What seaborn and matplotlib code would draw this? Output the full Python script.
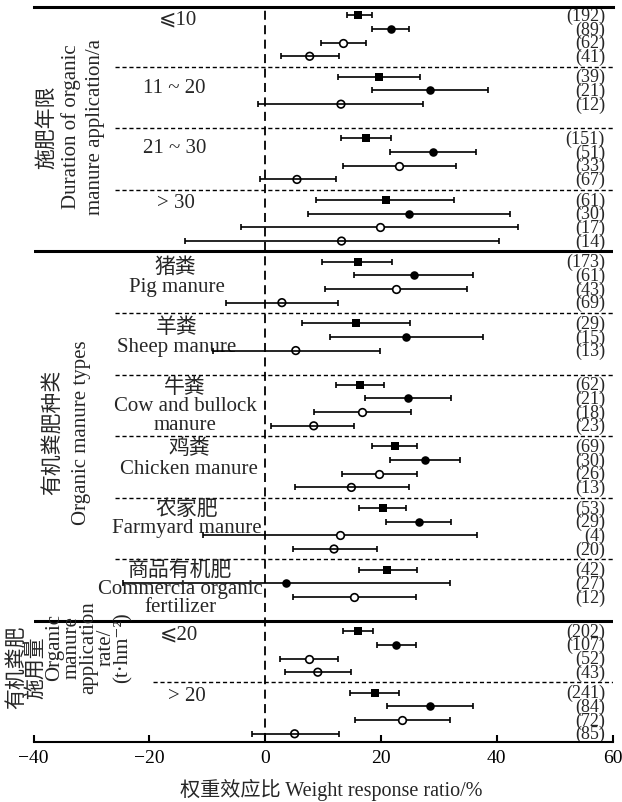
import numpy as np
import pandas as pd
import matplotlib
matplotlib.use("Agg")
import matplotlib.pyplot as plt
import seaborn as sns

# ---------------------------------------------------------------------------
# Data
# ---------------------------------------------------------------------------
# subgroup index (0..11), slot within subgroup (0..3), marker kind a/b/c/d
row_group = [0, 0, 0, 0, 1, 1, 1, 2, 2, 2, 2, 3, 3, 3, 3,
             4, 4, 4, 4, 5, 5, 5, 6, 6, 6, 6, 7, 7, 7, 7,
             8, 8, 8, 8, 9, 9, 9, 10, 10, 10, 10, 11, 11, 11, 11]
row_slot = [0, 1, 2, 3, 0, 1, 2, 0, 1, 2, 3, 0, 1, 2, 3,
            0, 1, 2, 3, 0, 1, 2, 0, 1, 2, 3, 0, 1, 2, 3,
            0, 1, 2, 3, 0, 1, 2, 0, 1, 2, 3, 0, 1, 2, 3]
row_kind = ["a", "b", "c", "d", "a", "b", "d", "a", "b", "c", "d", "a", "b", "c", "d",
            "a", "b", "c", "d", "a", "b", "d", "a", "b", "c", "d", "a", "b", "c", "d",
            "a", "b", "c", "d", "a", "b", "c", "a", "b", "c", "d", "a", "b", "c", "d"]

means = [16.1, 21.7, 13.5, 7.7,
         19.7, 28.5, 13.1,
         17.4, 29.0, 23.2, 5.5,
         20.8, 24.9, 19.8, 13.2,
         16.0, 25.7, 22.6, 2.9,
         15.7, 24.4, 5.3,
         16.4, 24.6, 16.7, 8.4,
         22.4, 27.7, 19.7, 14.9,
         20.3, 26.5, 12.9, 11.9,
         21.1, 3.6, 15.3,
         16.0, 22.6, 7.5, 9.1,
         18.9, 28.4, 23.7, 5.1]
lows = [14.1, 18.4, 9.7, 2.7,
        12.6, 18.4, -1.2,
        13.1, 21.5, 13.5, -0.9,
        8.8, 7.4, -4.2, -13.9,
        9.8, 15.3, 10.3, -6.8,
        6.4, 11.2, -9.0,
        12.2, 17.3, 8.4, 1.1,
        18.4, 21.5, 13.2, 5.1,
        16.2, 20.8, -10.7, 4.8,
        16.2, -24.6, 4.8,
        13.5, 19.3, 2.6, 3.4,
        14.6, 21.0, 15.5, -2.2]
highs = [18.5, 24.9, 17.5, 12.8,
         26.8, 38.5, 27.2,
         21.7, 36.5, 33.0, 12.2,
         32.7, 42.3, 43.7, 40.4,
         22.0, 35.9, 34.9, 12.6,
         25.0, 37.6, 19.8,
         20.6, 32.1, 25.2, 15.3,
         26.3, 33.7, 26.3, 24.9,
         24.4, 32.1, 36.6, 19.3,
         26.3, 32.0, 26.0,
         18.6, 26.0, 12.6, 14.9,
         23.2, 35.9, 31.9, 12.8]
counts = [192, 89, 62, 41,
          39, 21, 12,
          151, 51, 33, 67,
          61, 30, 17, 14,
          173, 61, 43, 69,
          29, 15, 13,
          62, 21, 18, 23,
          69, 30, 26, 13,
          53, 29, 4, 20,
          42, 27, 12,
          202, 107, 52, 43,
          241, 84, 72, 85]

x_ticks = [-40, -20, 0, 20, 40, 60]

# subgroup labels: (subgroup, offset in rows, x pixel centre, text, size)
sub_labels = [
    (0, 0.3, 178, "⩽10", 15),
    (1, 0.8, 174, "11 ~ 20", 15),
    (2, 0.7, 175, "21 ~ 30", 15),
    (3, 0.15, 176, "> 30", 15),
    (4, 0.4, 175, "猪粪", 15),
    (4, 1.8, 177, "Pig manure", 15),
    (5, 0.3, 177, "羊粪", 15),
    (5, 1.7, 177, "Sheep manure", 15),
    (6, 0.2, 185, "牛粪", 15),
    (6, 1.5, 185, "Cow and bullock", 15),
    (6, 2.9, 185, "manure", 15),
    (7, 0.1, 189, "鸡粪", 15),
    (7, 1.6, 189, "Chicken manure", 15),
    (8, 0.06, 187, "农家肥", 15),
    (8, 1.45, 187, "Farmyard manure", 15),
    (9, 0.0, 180, "商品有机肥", 15),
    (9, 1.4, 180, "Commercia organic", 15),
    (9, 2.7, 180, "fertilizer", 15),
    (10, 0.2, 179, "⩽20", 15),
    (11, 0.2, 187, "> 20", 15),
]

# ---------------------------------------------------------------------------
# Layout helpers
# ---------------------------------------------------------------------------
PITCH = 4.5          # rows per subgroup incl. gap
AX_L, AX_W = 33.5, 579.0


def ax_x(px):
    """figure pixel -> axes fraction (x)."""
    return (px - AX_L) / AX_W


df = pd.DataFrame({
    "group": row_group, "slot": row_slot, "kind": row_kind,
    "mean": means, "low": lows, "high": highs, "n": counts,
})
df["ypos"] = df["group"] * PITCH + df["slot"]

sns.set_theme(style="ticks")
plt.rcParams["font.family"] = ["Liberation Serif", "Noto Sans CJK SC", "DejaVu Sans"]
plt.rcParams["axes.unicode_minus"] = True

fig = plt.figure(figsize=(6.22, 8.03), dpi=100)
ax = fig.add_axes([AX_L / 622, 60 / 803, AX_W / 622, 735 / 803])

# error bars
ax.errorbar(df["mean"], df["ypos"],
            xerr=[df["mean"] - df["low"], df["high"] - df["mean"]],
            fmt="none", ecolor="black", elinewidth=1.2, capsize=2.5,
            capthick=1.2, zorder=2)

# markers
styles = {
    "a": dict(marker="s", color="black", s=30, linewidth=0),
    "b": dict(marker="o", color="black", s=38, linewidth=0),
    "c": dict(marker="o", color="white", edgecolor="black", s=30, linewidth=1.2),
    "d": dict(marker="o", color="none", edgecolor="black", s=30, linewidth=1.2),
}
for kind, kw in styles.items():
    sub = df[df["kind"] == kind]
    sns.scatterplot(data=sub, x="mean", y="ypos", ax=ax, zorder=3,
                    legend=False, **kw)

# count labels
for _, r in df.iterrows():
    ax.text(58.7, r["ypos"], "({})".format(r["n"]), ha="right", va="center",
            fontsize=13, zorder=1)

# separators
n_groups = max(row_group) + 1
for g in range(n_groups - 1):
    y = g * PITCH + 3.75
    if g in (3, 9):
        ax.axhline(y, color="black", lw=2.2, zorder=2)
    else:
        xmin = -19.4 if g == 10 else -26.0
        ax.hlines(y, xmin, 60, colors="black", lw=1.0,
                  linestyles=(0, (3, 2)), zorder=1)

ax.axvline(0, color="black", lw=1.3, ls=(0, (5, 3)), zorder=1)

# subgroup labels
ytr = ax.get_yaxis_transform()
for g, off, px, txt, fs in sub_labels:
    ax.text(ax_x(px), g * PITCH + off, txt, transform=ytr, ha="center",
            va="center", fontsize=fs, zorder=1)

# section labels (rotated)
ax.text(ax_x(71), 8.1, "施肥年限\nDuration of organic\nmanure application/a",
        transform=ytr, rotation=90, ha="center", va="center", fontsize=15,
        linespacing=1.3, multialignment="center")
ax.text(ax_x(67), 30.4, "有机粪肥种类\nOrganic manure types",
        transform=ytr, rotation=90, ha="center", va="center", fontsize=15,
        linespacing=1.7, multialignment="center")
ax.text(ax_x(27), 47.6, "有机粪肥\n施用量",
        transform=ytr, rotation=90, ha="center", va="center", fontsize=15,
        linespacing=0.95, multialignment="center")
ax.text(ax_x(89), 46.1, "Organic\nmanure\napplication\nrate/\n(t·hm⁻²)",
        transform=ytr, rotation=90, ha="center", va="center", fontsize=15,
        linespacing=0.85, multialignment="center")

# axes styling
ax.set_xlim(-40, 60)
ax.set_ylim(53.1, -0.6)
ax.set_xticks(x_ticks)
ax.set_yticks([])
ax.set_ylabel("")
ax.set_xlabel("权重效应比 Weight response ratio/%", fontsize=14.5)
ax.xaxis.set_label_coords(ax_x(331), -0.049)
ax.tick_params(axis="x", direction="in", length=5, width=1.5, pad=5,
               labelsize=14, colors="black")
for side in ("left", "right"):
    ax.spines[side].set_visible(False)
ax.spines["top"].set_linewidth(2.2)
ax.spines["bottom"].set_linewidth(1.5)
ax.spines["top"].set_color("black")
ax.spines["bottom"].set_color("black")
ax.set_facecolor("white")
ax.grid(False)

fig.savefig("out.png", dpi=100, facecolor="white")
